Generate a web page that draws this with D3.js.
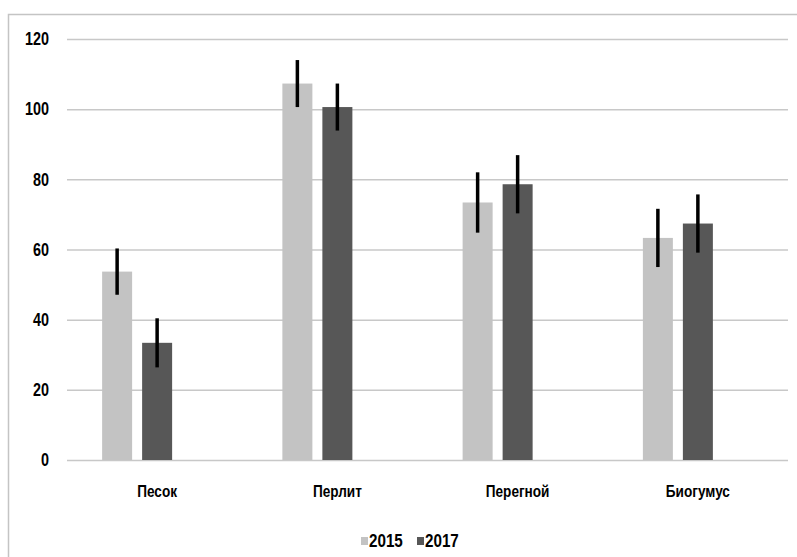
<!DOCTYPE html>
<html>
<head>
<meta charset="utf-8">
<script src="https://cdn.jsdelivr.net/npm/d3@7"></script>
<style>
  body { margin: 0; background: #fff; }
  text { font-family: "Liberation Sans", Arial, sans-serif; font-weight: bold; fill: #000; }
</style>
</head>
<body>
<div id="chart"></div>
<script>
// data
const categories = ["Песок", "Перлит", "Перегной", "Биогумус"];
const series = ["2015", "2017"];
const values2015 = [53.7, 107.3, 73.4, 63.3];
const values2017 = [33.4, 100.6, 78.6, 67.4];
const errors2015 = [6.6, 6.7, 8.6, 8.3];
const errors2017 = [7.0, 6.7, 8.3, 8.3];
const yTicks = [0, 20, 40, 60, 80, 100, 120];

const seriesColor = { "2015": "#c3c3c3", "2017": "#575757" };

const data = [];
categories.forEach((c, i) => {
  data.push({ cat: c, year: "2015", value: values2015[i], err: errors2015[i] });
  data.push({ cat: c, year: "2017", value: values2017[i], err: errors2017[i] });
});

/** CONSTANTS */
const width = 797;
const height = 557;
const margins = { top: 39, bottom: 97, left: 67, right: 9 };
const squeeze = 0.8; // the original text looks horizontally condensed

const svg = d3.select("#chart")
  .append("svg")
  .attr("width", width)
  .attr("height", height);

// frame (only top and left edges are visible in the crop)
svg.append("path")
  .attr("d", `M8.5,${height} V14.5 H${width}`)
  .attr("fill", "none")
  .attr("stroke", "#c4c4c4")
  .attr("stroke-width", 1.5);

/** SCALES */
const x0 = d3.scaleBand()
  .domain(categories)
  .range([margins.left, width - margins.right]);

// Excel kept room for a third (empty) series, so the pair sits left of the label
const x1 = d3.scaleBand()
  .domain([...series, "empty"])
  .range([x0.bandwidth() / 2 - 60, x0.bandwidth() / 2 + 60])
  .paddingInner(0.25)
  .paddingOuter(0.125);

const y = d3.scaleLinear()
  .domain([0, 120])
  .range([height - margins.bottom, margins.top]);

/** GRID + Y AXIS */
const yAxis = svg.append("g")
  .attr("transform", `translate(${margins.left},0)`)
  .call(d3.axisLeft(y).tickValues(yTicks).tickSize(-(width - margins.left - margins.right)));

yAxis.select(".domain").remove();
yAxis.selectAll(".tick line")
  .attr("stroke", "#c8c8c8")
  .attr("stroke-width", 1.5);
yAxis.selectAll(".tick text").remove();

// tick labels, condensed
svg.selectAll("g.ylabel")
  .data(yTicks)
  .join("g")
  .attr("class", "ylabel")
  .attr("transform", d => `translate(49,${y(d)}) scale(${squeeze},1)`)
  .append("text")
  .attr("text-anchor", "end")
  .attr("dy", "0.35em")
  .attr("font-size", 18)
  .text(d => d);

/** BARS */
svg.selectAll("rect.bar")
  .data(data)
  .join("rect")
  .attr("class", "bar")
  .attr("x", d => x0(d.cat) + x1(d.year))
  .attr("y", d => y(d.value))
  .attr("width", x1.bandwidth())
  .attr("height", d => y(0) - y(d.value))
  .attr("fill", d => seriesColor[d.year]);

/** ERROR BARS */
svg.selectAll("line.err")
  .data(data)
  .join("line")
  .attr("class", "err")
  .attr("x1", d => x0(d.cat) + x1(d.year) + x1.bandwidth() / 2)
  .attr("x2", d => x0(d.cat) + x1(d.year) + x1.bandwidth() / 2)
  .attr("y1", d => y(d.value + d.err))
  .attr("y2", d => y(d.value - d.err))
  .attr("stroke", "#000")
  .attr("stroke-width", 3.5);

/** CATEGORY LABELS */
svg.selectAll("g.cat")
  .data(categories)
  .join("g")
  .attr("class", "cat")
  .attr("transform", d => `translate(${x0(d) + x0.bandwidth() / 2},497) scale(${squeeze},1)`)
  .append("text")
  .attr("text-anchor", "middle")
  .attr("font-size", 17)
  .text(d => d);

/** LEGEND */
const legend = svg.selectAll("g.legend")
  .data(series)
  .join("g")
  .attr("class", "legend")
  .attr("transform", (d, i) => `translate(${361 + i * 56},0)`);

legend.append("rect")
  .attr("x", 0)
  .attr("y", 537)
  .attr("width", 7)
  .attr("height", 8)
  .attr("fill", d => seriesColor[d]);

legend.append("g")
  .attr("transform", `translate(8,547) scale(${squeeze},1)`)
  .append("text")
  .attr("font-size", 19)
  .text(d => d);
</script>
</body>
</html>
